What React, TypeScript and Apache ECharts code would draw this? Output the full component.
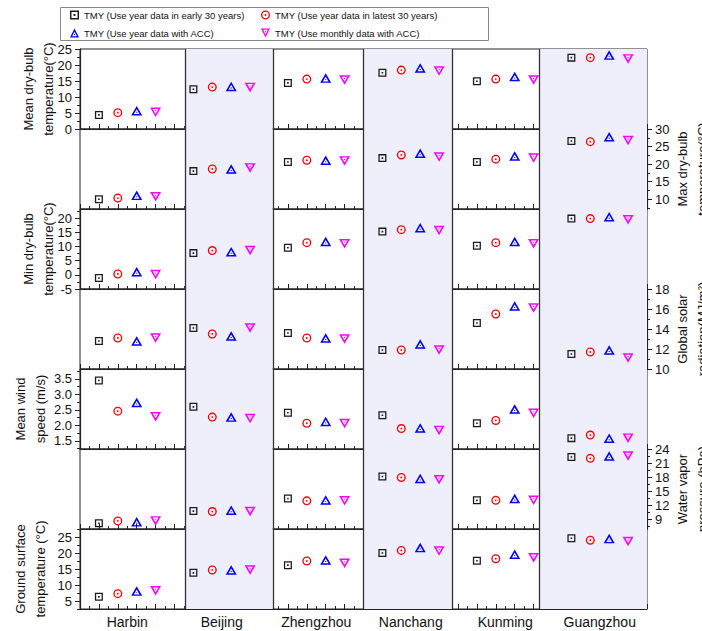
import React, { useEffect, useRef } from 'react';
import * as echarts from 'echarts';

const cities = ['Harbin', 'Beijing', 'Zhengzhou', 'Nanchang', 'Kunming', 'Guangzhou'];
const methods = [
  'TMY (Use year data in early 30 years)',
  'TMY (Use year data in latest 30 years)',
  'TMY (Use year data with ACC)',
  'TMY (Use monthly data with ACC)',
];
// x slot of the first marker of every city group
const cityFirstSlot = [1, 6, 11, 16, 21, 26];
const cityLabelSlot = [2.5, 7.5, 12.5, 17.5, 22.5, 27.5];
const groupDividers = [5.55, 10.2, 15, 19.7, 24.3];
const shadedGroups = [[5.55, 10.2], [15, 19.7], [24.3, 30]];

// Row 1: mean dry-bulb temperature (°C)
const meanDryEarly = [4.4, 12.4, 14.4, 17.6, 14.9, 22.3];
const meanDryLatest = [5.1, 13.1, 15.6, 18.4, 15.6, 22.3];
const meanDryAcc = [5.7, 13.3, 15.9, 19.1, 16.4, 23.1];
const meanDryMonthly = [5.2, 13.0, 15.3, 18.1, 15.3, 21.9];
const meanDryTicks = [0, 5, 10, 15, 20, 25];

// Row 2: max dry-bulb temperature (°C)
const maxDryEarly = [10.0, 18.0, 20.6, 21.7, 20.6, 26.6];
const maxDryLatest = [10.3, 18.6, 21.1, 22.6, 21.4, 26.4];
const maxDryAcc = [11.1, 18.6, 21.1, 23.1, 22.3, 27.8];
const maxDryMonthly = [10.7, 18.9, 20.9, 22.0, 21.7, 26.7];
const maxDryTicks = [10, 15, 20, 25, 30];

// Row 3: min dry-bulb temperature (°C)
const minDryEarly = [-1.1, 7.7, 9.6, 15.3, 10.3, 19.9];
const minDryLatest = [0.3, 8.6, 11.4, 16.0, 11.4, 19.9];
const minDryAcc = [1.1, 8.2, 11.8, 16.7, 11.8, 20.6];
const minDryMonthly = [0.1, 8.6, 11.0, 15.7, 11.0, 19.5];
const minDryTicks = [-5, 0, 5, 10, 15, 20];

// Row 4: global solar radiation (MJ/m2)
const solarEarly = [12.8, 14.1, 13.6, 11.9, 14.6, 11.5];
const solarLatest = [13.1, 13.5, 13.1, 11.9, 15.5, 11.7];
const solarAcc = [12.8, 13.3, 13.1, 12.5, 16.3, 11.9];
const solarMonthly = [13.1, 14.1, 13.0, 11.9, 16.1, 11.1];
const solarTicks = [10, 12, 14, 16, 18];

// Row 5: mean wind speed (m/s)
const windEarly = [3.45, 2.6, 2.41, 2.33, 2.07, 1.59];
const windLatest = [2.46, 2.27, 2.07, 1.9, 2.16, 1.69];
const windAcc = [2.74, 2.27, 2.13, 1.92, 2.53, 1.59];
const windMonthly = [2.28, 2.22, 2.06, 1.84, 2.39, 1.59];
const windTicks = [1.5, 2.0, 2.5, 3.0, 3.5];

// Row 6: water vapor pressure (hPa)
const vaporEarly = [8.1, 10.7, 13.4, 18.1, 13.0, 22.3];
const vaporLatest = [8.6, 10.6, 12.9, 17.9, 13.0, 22.0];
const vaporAcc = [8.4, 10.9, 13.1, 17.7, 13.4, 22.5];
const vaporMonthly = [8.6, 10.6, 12.9, 17.4, 13.0, 22.5];
const vaporTicks = [9, 12, 15, 18, 21, 24];

// Row 7: ground surface temperature (°C)
const groundEarly = [6.3, 13.8, 16.2, 20.0, 17.6, 24.6];
const groundLatest = [7.3, 14.7, 17.5, 20.8, 18.2, 24.0];
const groundAcc = [8.1, 14.7, 17.8, 21.7, 19.6, 24.5];
const groundMonthly = [8.2, 14.7, 16.8, 20.6, 18.5, 23.6];
const groundTicks = [5, 10, 15, 20, 25];

const rows = [
  { name: 'Mean dry-bulb\ntemperature(°C)', side: 'left', gap: 22, min: 0, max: 25, ticks: meanDryTicks, digits: 0,
    data: [meanDryEarly, meanDryLatest, meanDryAcc, meanDryMonthly] },
  { name: 'Max dry-bulb\ntemperature(°C)', side: 'right', gap: 25, min: 7.2, max: 30, ticks: maxDryTicks, digits: 0,
    data: [maxDryEarly, maxDryLatest, maxDryAcc, maxDryMonthly] },
  { name: 'Min dry-bulb\ntemperature(°C)', side: 'left', gap: 22, min: -5, max: 23.3, ticks: minDryTicks, digits: 0,
    data: [minDryEarly, minDryLatest, minDryAcc, minDryMonthly] },
  { name: 'Global solar\nradiation(MJ/m²)', side: 'right', gap: 25, min: 10, max: 18, ticks: solarTicks, digits: 0,
    data: [solarEarly, solarLatest, solarAcc, solarMonthly] },
  { name: 'Mean wind\nspeed (m/s)', side: 'left', gap: 30, min: 1.24, max: 3.82, ticks: windTicks, digits: 1,
    data: [windEarly, windLatest, windAcc, windMonthly] },
  { name: 'Water vapor\npressure (hPa)', side: 'right', gap: 25, min: 6.86, max: 24, ticks: vaporTicks, digits: 0,
    data: [vaporEarly, vaporLatest, vaporAcc, vaporMonthly] },
  { name: 'Ground surface\ntemperature (°C)', side: 'left', gap: 30, min: 2.5, max: 27.5, ticks: groundTicks, digits: 0,
    data: [groundEarly, groundLatest, groundAcc, groundMonthly] },
];

const FONT = '"Liberation Sans", Arial, Helvetica, sans-serif';
const symbols = [
  'path://M0,0H100V100H0Z M16,16V84H84V16Z M40,40H60V60H40Z',
  'path://M50,0A50,50,0,1,1,50,100A50,50,0,1,1,50,0Z M50,15A35,35,0,1,0,50,85A35,35,0,1,0,50,15Z M50,40A10,10,0,1,1,50,60A10,10,0,1,1,50,40Z',
  'path://M50,0L100,100H0Z M50,33.5L24.3,85H75.7Z M45,61H55V71H45Z',
  'path://M0,0H100L50,100Z M24.3,15L50,66.5L75.7,15Z M45,29H55V39H45Z',
];
const symbolSizes: any[] = [8, 9, [11, 9.5], [11, 9.5]];
const colors = ['#1a1a1a', '#ff0000', '#0000ff', '#ff00ff'];

const PLOT_TOP = 49;
const ROW_H = 80;

function minorTicks(ticks: number[], min: number, max: number) {
  const step = ticks[1] - ticks[0];
  const out: number[] = [];
  const cand = [ticks[0] - step / 2, ...ticks.map((t) => t + step / 2)];
  cand.forEach((v) => {
    if (v >= min - 1e-9 && v <= max + 1e-9) out.push(v);
  });
  return out;
}

function buildOption() {
  const grids: any[] = [];
  const xAxes: any[] = [];
  const yAxes: any[] = [];
  const series: any[] = [];

  rows.forEach((row, r) => {
    grids.push({
      left: 80, right: 55, top: PLOT_TOP + ROW_H * r, height: ROW_H,
      show: true, borderColor: '#222', borderWidth: 1, backgroundColor: 'transparent',
      containLabel: false, outerBoundsMode: 'none',
    });
    xAxes.push({
      gridIndex: r, type: 'value', min: 0, max: 30, interval: 1,
      axisLine: { show: true, onZero: false, lineStyle: { color: '#222', width: 1.2 } },
      axisTick: { show: true, inside: true, length: 5, lineStyle: { color: '#222' } },
      minorTick: { show: true, splitNumber: 2, length: 3, lineStyle: { color: '#222' } },
      axisLabel: { show: false }, splitLine: { show: false }, minorSplitLine: { show: false },
    });
    const fmt = (v: number) => v.toFixed(row.digits);
    yAxes.push({
      gridIndex: r, type: 'value', position: row.side, min: row.min, max: row.max,
      axisLine: { show: true, onZero: false, lineStyle: { color: '#222', width: 1.2 } },
      axisTick: { show: true, length: 5, customValues: row.ticks, lineStyle: { color: '#222' } },
      axisLabel: { show: true, customValues: row.ticks, formatter: fmt, fontSize: 13, color: '#111',
        fontFamily: FONT, margin: 8 },
      splitLine: { show: false },
      name: row.name, nameLocation: 'middle', nameGap: row.gap,
      nameMoveOverlap: false,
      nameTextStyle: { fontSize: 13, lineHeight: 20, color: '#111', fontFamily: FONT },
    });
    yAxes.push({
      gridIndex: r, type: 'value', position: row.side, min: row.min, max: row.max,
      axisLine: { show: false, onZero: false },
      axisTick: { show: true, length: 3, customValues: minorTicks(row.ticks, row.min, row.max),
        lineStyle: { color: '#222' } },
      axisLabel: { show: false }, splitLine: { show: false },
    });

    series.push({
      type: 'scatter', name: 'shade-' + r, xAxisIndex: r, yAxisIndex: 2 * r, data: [], z: -1, silent: true,
      markArea: {
        silent: true, itemStyle: { color: '#eeeffa' },
        data: shadedGroups.map(([a, b]) => [{ xAxis: a }, { xAxis: b }]),
      },
    });
    series.push({
      type: 'scatter', name: 'divider-' + r, xAxisIndex: r, yAxisIndex: 2 * r, data: [], z: 1, silent: true,
      markLine: {
        silent: true, symbol: ['none', 'none'], label: { show: false },
        lineStyle: { color: '#333', width: 1.3, type: 'solid' },
        emphasis: { disabled: true },
        data: groupDividers.map((x) => ({ xAxis: x })),
      },
    });

    row.data.forEach((vals, k) => {
      series.push({
        type: 'scatter', name: methods[k], xAxisIndex: r, yAxisIndex: 2 * r,
        symbol: symbols[k], symbolSize: symbolSizes[k],
        itemStyle: { color: colors[k], opacity: 1 },
        data: vals.map((v, c) => [cityFirstSlot[c] + k, v]),
        z: 5, silent: true, emphasis: { disabled: true },
      });
    });
  });

  // city labels below bottom row
  xAxes.push({
    gridIndex: rows.length - 1, type: 'value', position: 'bottom', min: 0, max: 30,
    axisLine: { show: false, onZero: false }, axisTick: { show: false },
    axisLabel: {
      show: true, customValues: cityLabelSlot, fontSize: 14, color: '#111', fontFamily: FONT, margin: 6,
      formatter: (v: number) => {
        const i = cityLabelSlot.findIndex((p) => Math.abs(p - v) < 1e-6);
        return i >= 0 ? cities[i] : '';
      },
    },
    splitLine: { show: false },
  });

  const legendPos = [[70, 10], [261, 10], [70, 28], [261, 28]];
  const legends = methods.map((m, k) => ({
    data: [m], left: legendPos[k][0], top: legendPos[k][1], padding: 0, orient: 'horizontal',
    itemWidth: 9, itemHeight: 9, itemGap: 0, selectedMode: false,
    textStyle: { fontSize: 9.5, color: '#111', fontFamily: FONT },
  }));

  return {
    animation: false,
    backgroundColor: '#fff',
    textStyle: { fontFamily: FONT },
    grid: grids,
    xAxis: xAxes,
    yAxis: yAxes,
    legend: legends,
    graphic: [{
      type: 'rect', silent: true, z: 10,
      shape: { x: 60.5, y: 7.5, width: 428, height: 33 },
      style: { fill: 'none', stroke: '#888', lineWidth: 1 },
    }],
    series,
  };
}

export default function App() {
  const ref = useRef<HTMLDivElement>(null);
  useEffect(() => {
    if (!ref.current) return;
    const chart = echarts.init(ref.current, null, { renderer: 'svg' });
    chart.setOption(buildOption() as any);
    return () => chart.dispose();
  }, []);
  return (
    <div
      ref={ref}
      style={{ position: 'absolute', left: 0, top: 0, width: 702, height: 631, background: '#fff' }}
    />
  );
}
